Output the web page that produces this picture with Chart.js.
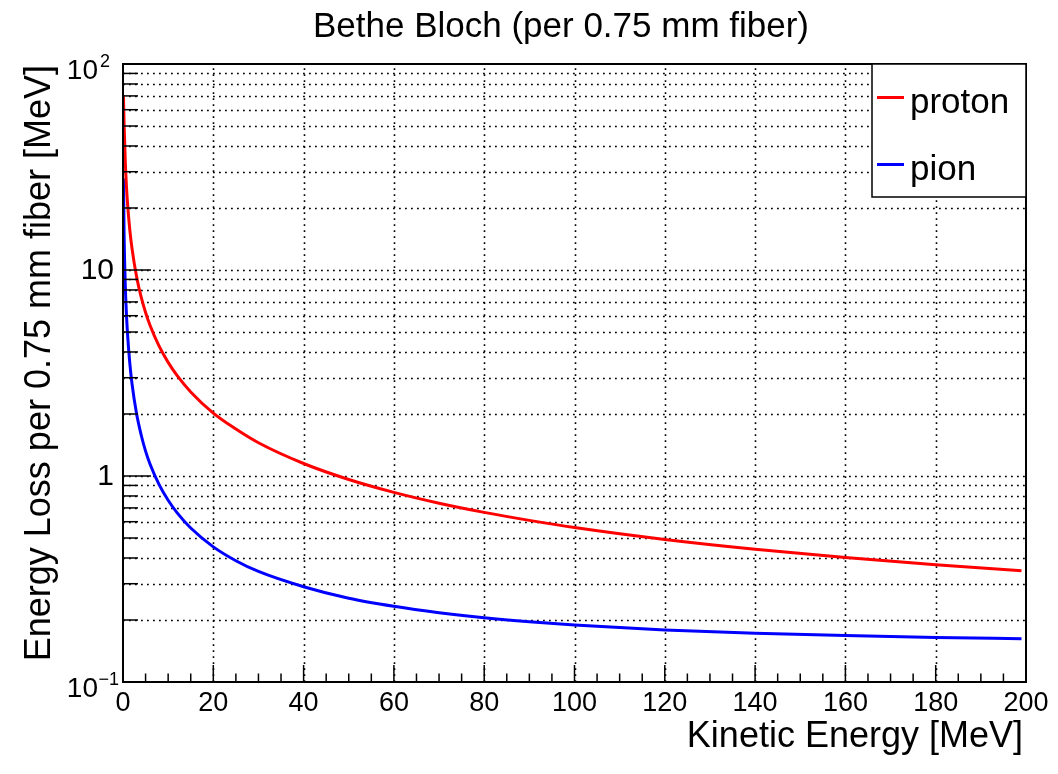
<!DOCTYPE html>
<html>
<head>
<meta charset="UTF-8">
<title>Bethe Bloch</title>
<script src="https://cdn.jsdelivr.net/npm/chart.js"></script>
<style>
  * { margin: 0; padding: 0; }
  body { background: #fff; width: 1058px; height: 774px; overflow: hidden; }
  canvas { display: block; }
</style>
</head>
<body>
<canvas id="chart" width="1058" height="774"></canvas>
<script>
// kinetic energy [MeV] sample points
const energy = [0.1, 0.25, 0.5, 0.75, 1, 1.5, 2, 3, 4, 5, 6, 8, 10, 12, 15, 20, 25, 30, 40, 50, 60, 70, 80, 90, 100, 120, 140, 160, 180, 199];
const protonLoss = [70.4, 50.5, 33.8, 25.8, 21.1, 15.7, 12.7, 9.30, 7.42, 6.22, 5.38, 4.27, 3.56, 3.07, 2.56, 2.02, 1.69, 1.45, 1.15, 0.962, 0.833, 0.738, 0.666, 0.609, 0.562, 0.492, 0.441, 0.402, 0.371, 0.347];
const pionLoss = [27.8, 14.5, 8.51, 6.18, 4.91, 3.54, 2.80, 2.01, 1.59, 1.32, 1.14, 0.908, 0.762, 0.662, 0.559, 0.453, 0.388, 0.344, 0.290, 0.255, 0.233, 0.217, 0.205, 0.196, 0.189, 0.179, 0.1725, 0.168, 0.1646, 0.1623];

const xMajor = [0, 20, 40, 60, 80, 100, 120, 140, 160, 180, 200];
const xMinor = [5, 10, 15, 25, 30, 35, 45, 50, 55, 65, 70, 75, 85, 90, 95, 105, 110, 115, 125, 130, 135, 145, 150, 155, 165, 170, 175, 185, 190, 195];
const yMajor = [0.1, 1, 10, 100];
const yMinor = [0.2, 0.3, 0.4, 0.5, 0.6, 0.7, 0.8, 0.9, 2, 3, 4, 5, 6, 7, 8, 9, 20, 30, 40, 50, 60, 70, 80, 90];
const yLabels = [['10', '\u22121'], ['1', ''], ['10', ''], ['10', '2']];

const FONT = '"Liberation Sans", Arial, Helvetica, sans-serif';

const rootStyle = {
  id: 'rootStyle',
  beforeDatasetsDraw(chart) {
    const ctx = chart.ctx, a = chart.chartArea;
    const xs = chart.scales.x, ys = chart.scales.y;
    ctx.save();
    ctx.strokeStyle = '#000';
    ctx.lineWidth = 1.6;
    ctx.setLineDash([1.8, 4.2]);
    xMajor.slice(1, -1).forEach(v => {
      const px = Math.round(xs.getPixelForValue(v)) + 0.5;
      ctx.beginPath(); ctx.moveTo(px, a.bottom); ctx.lineTo(px, a.top); ctx.stroke();
    });
    yMajor.concat(yMinor).forEach(v => {
      if (v <= 0.1 || v >= 100) return;
      const py = Math.round(ys.getPixelForValue(v)) + 0.5;
      ctx.beginPath(); ctx.moveTo(a.left, py); ctx.lineTo(a.right, py); ctx.stroke();
    });
    ctx.restore();
  },
  afterDatasetsDraw(chart) {
    const ctx = chart.ctx, a = chart.chartArea;
    const xs = chart.scales.x, ys = chart.scales.y;
    ctx.save();
    ctx.strokeStyle = '#000';
    ctx.fillStyle = '#000';

    // tick marks, drawn inwards like ROOT
    ctx.lineWidth = 1.5;
    xMajor.forEach(v => {
      const px = xs.getPixelForValue(v);
      ctx.beginPath(); ctx.moveTo(px, a.bottom); ctx.lineTo(px, a.bottom - 17); ctx.stroke();
    });
    xMinor.forEach(v => {
      const px = xs.getPixelForValue(v);
      ctx.beginPath(); ctx.moveTo(px, a.bottom); ctx.lineTo(px, a.bottom - 8.5); ctx.stroke();
    });
    yMajor.forEach(v => {
      const py = ys.getPixelForValue(v);
      ctx.beginPath(); ctx.moveTo(a.left, py); ctx.lineTo(a.left + 28, py); ctx.stroke();
    });
    yMinor.forEach(v => {
      const py = ys.getPixelForValue(v);
      ctx.beginPath(); ctx.moveTo(a.left, py); ctx.lineTo(a.left + 15, py); ctx.stroke();
    });

    // frame
    ctx.lineWidth = 2;
    ctx.strokeRect(a.left, a.top, a.right - a.left, a.bottom - a.top);

    // x tick labels
    ctx.font = '27px ' + FONT;
    ctx.textAlign = 'center';
    ctx.textBaseline = 'alphabetic';
    xMajor.forEach(v => ctx.fillText(String(v), xs.getPixelForValue(v), 711));

    // y tick labels
    yMajor.forEach((v, i) => {
      const py = ys.getPixelForValue(v);
      const [base, exp] = yLabels[i];
      if (exp) {
        ctx.font = '28px ' + FONT;
        ctx.textAlign = 'right';
        ctx.fillText(base, 98, py + 14.5);
        ctx.font = '18px ' + FONT;
        ctx.textAlign = 'left';
        ctx.fillText(exp, exp.length > 1 ? 98.5 : 100, py + 3);
      } else {
        ctx.font = '30px ' + FONT;
        ctx.textAlign = 'right';
        ctx.textBaseline = 'middle';
        ctx.fillText(base, 114, py + 1);
        ctx.textBaseline = 'alphabetic';
      }
    });

    // titles
    ctx.font = '35px ' + FONT;
    ctx.textAlign = 'center';
    ctx.fillText('Bethe Bloch (per 0.75 mm fiber)', 561, 37);
    ctx.font = '36px ' + FONT;
    ctx.textAlign = 'right';
    ctx.fillText('Kinetic Energy [MeV]', 1023, 747);
    ctx.save();
    ctx.translate(50, 65);
    ctx.rotate(-Math.PI / 2);
    ctx.fillText('Energy Loss per 0.75 mm fiber [MeV]', 0, 0);
    ctx.restore();

    // legend box
    const lx = 872, ly = 64, lw = 154, lh = 133;
    ctx.fillStyle = '#fff';
    ctx.fillRect(lx, ly, lw, lh);
    ctx.lineWidth = 1.5;
    ctx.strokeStyle = '#000';
    ctx.strokeRect(lx, ly, lw, lh);
    const rows = [97.5, 164.5];
    chart.data.datasets.forEach((ds, i) => {
      ctx.strokeStyle = ds.borderColor;
      ctx.lineWidth = 3;
      ctx.beginPath(); ctx.moveTo(877, rows[i]); ctx.lineTo(904, rows[i]); ctx.stroke();
      ctx.fillStyle = '#000';
      ctx.font = '35px ' + FONT;
      ctx.textAlign = 'left';
      ctx.fillText(ds.label, 910, rows[i] + 15);
    });
    ctx.restore();
  }
};

const toPoints = ys => energy.map((x, i) => ({ x: x, y: ys[i] }));

new Chart(document.getElementById('chart'), {
  type: 'line',
  data: {
    datasets: [
      { label: 'proton', data: toPoints(protonLoss), borderColor: '#ff0000', borderWidth: 3, pointRadius: 0, cubicInterpolationMode: 'monotone', fill: false },
      { label: 'pion', data: toPoints(pionLoss), borderColor: '#0000ff', borderWidth: 3, pointRadius: 0, cubicInterpolationMode: 'monotone', fill: false }
    ]
  },
  options: {
    responsive: false,
    animation: false,
    devicePixelRatio: 1,
    layout: { padding: { left: 123, top: 64, right: 32, bottom: 92 } },
    plugins: { legend: { display: false }, title: { display: false }, tooltip: { enabled: false } },
    scales: {
      x: { type: 'linear', min: 0, max: 200, display: false },
      y: { type: 'logarithmic', min: 0.1, max: 100, display: false }
    }
  },
  plugins: [rootStyle]
});
</script>
</body>
</html>
